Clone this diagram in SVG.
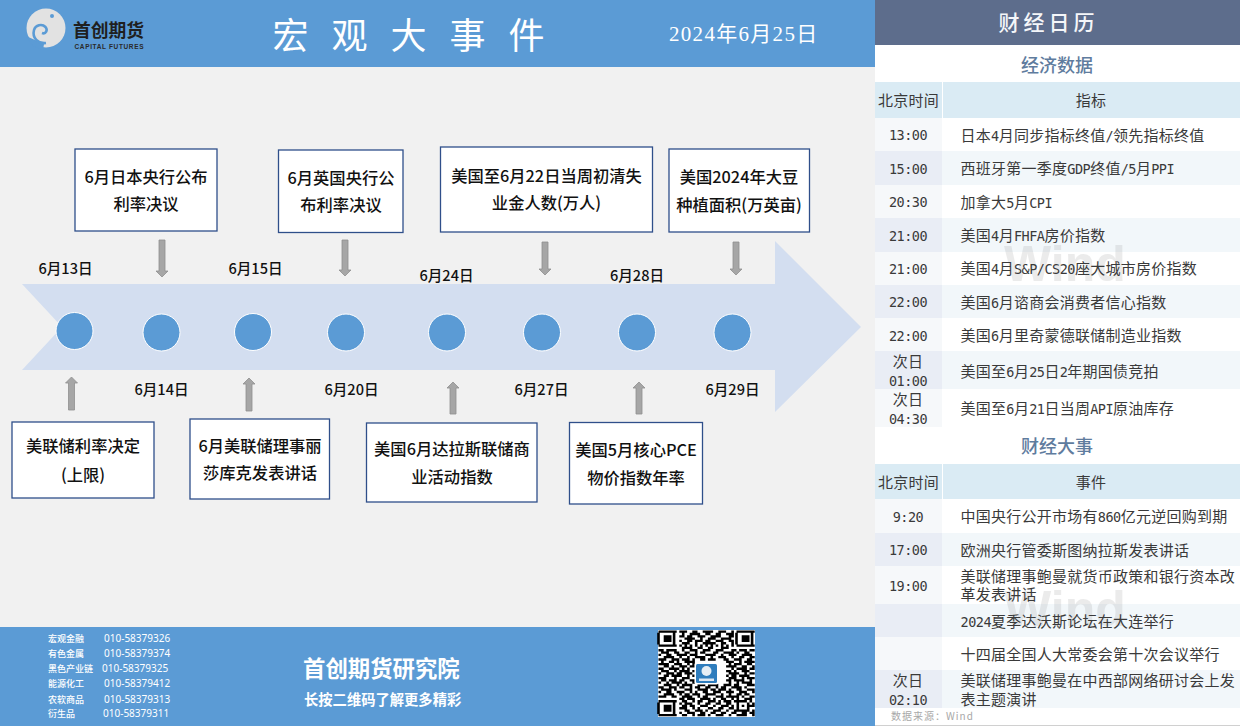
<svg xmlns="http://www.w3.org/2000/svg" width="1240" height="726" viewBox="0 0 1240 726">
<style>
text{font-family:"Noto Sans CJK SC","Noto Sans",sans-serif}
.box{fill:#fff;stroke:#2F4F8A;stroke-width:1.3}
.bt{font-size:16.300px;font-weight:500;fill:#111;text-anchor:middle}
.dt{font-size:14.600px;font-weight:500;fill:#111;text-anchor:middle}
.dot{fill:#5B9BD5;stroke:#fff;stroke-width:1}
.arr{fill:#A6A6A6;stroke:#8F8F8F;stroke-width:.8}
.c{font-size:15px;fill:#3A3A3A;letter-spacing:.25px}
.t{font-size:15px;fill:#3A3A3A;letter-spacing:.25px;text-anchor:middle}
.m{font-family:"DejaVu Sans Mono",monospace;font-size:13.500px;letter-spacing:-.5px}
.h{font-size:15px;fill:#3A3A3A;text-anchor:middle;letter-spacing:.2px}
.sec{font-size:18px;font-weight:500;fill:#5F7C9E;text-anchor:middle}
.dep{font-size:9px;font-weight:500;fill:#fff}
.ph{font-family:"Noto Sans",sans-serif;font-size:10px;fill:#fff}
.wm{font-family:"Liberation Sans",sans-serif;font-weight:700;font-size:50px;fill:#777;opacity:.14}
.hd{fill:#DAEBF4}.ta{fill:#F2F7FA}.tb{fill:#E9EDF5}.tc{fill:#F6F8FA}
</style>
<rect width="1240" height="726" fill="#fff"/>
<rect width="875" height="726" fill="#F1F1F1"/>
<g id="header">
<rect width="875" height="67" fill="#5B9BD5"/>
<g id="logo">
<circle cx="46" cy="28" r="19.500" fill="#E2E2E2"/>
<path d="M26 36L33 46 43 50 44 44Z" fill="#5B9BD5"/>
<path d="M46 43C38 44 32 38 34 30 35.500 25 42 23.500 45.500 27 48 30 46 34.500 42 33" fill="none" stroke="#5B9BD5" stroke-width="2.600"/>
<circle cx="52" cy="16" r="2" fill="#5B9BD5"/>
<text x="73" y="37" font-size="17.800" font-weight="700" fill="#1F1F1F">首创期货</text>
<text x="74.500" y="48.500" font-size="6.500" font-weight="700" fill="#2A2A2A" style="font-family:'Liberation Sans',sans-serif" textLength="69">CAPITAL FUTURES</text>
</g>
<text x="420" y="49" font-size="36" font-weight="400" fill="#fff" text-anchor="middle" letter-spacing="23">宏观大事件</text>
<text x="669" y="41" font-size="21" fill="#fff" letter-spacing="1.300" style="font-family:'Liberation Serif','Noto Sans CJK SC',serif">2024年6月25日</text>
</g>
<path id="timeline-arrow" d="M22 284H775V241L861 327 775 412V370H22L62 327Z" fill="#D3DEF0"/>
<g id="connectors">
<path class="arr" d="M159 240h6v31h3l-6 6-6-6h3z"/>
<path class="arr" d="M342 240h6v30h3l-6 6-6-6h3z"/>
<path class="arr" d="M542 242h6v27h3l-6 6-6-6h3z"/>
<path class="arr" d="M733 242h6v27h3l-6 6-6-6h3z"/>
<path class="arr" d="M68.500 410v-27h-3l6-6 6 6h-3v27z"/>
<path class="arr" d="M246 411v-27h-3l6-6 6 6h-3v27z"/>
<path class="arr" d="M450 414v-26h-3l6-6 6 6h-3v26z"/>
<path class="arr" d="M636 414v-26h-3l6-6 6 6h-3v26z"/>
</g>
<g id="dots">
<circle class="dot" cx="74.500" cy="331" r="18.500"/>
<circle class="dot" cx="161.500" cy="332.500" r="18.500"/>
<circle class="dot" cx="253" cy="332" r="18.500"/>
<circle class="dot" cx="346" cy="332.500" r="18.500"/>
<circle class="dot" cx="447" cy="332.500" r="18.500"/>
<circle class="dot" cx="542" cy="332.500" r="18.500"/>
<circle class="dot" cx="637" cy="332.500" r="18.500"/>
<circle class="dot" cx="732.500" cy="332.500" r="18.500"/>
</g>
<g id="dates">
<text class="dt" x="65.500" y="274">6月13日</text>
<text class="dt" x="255.500" y="274">6月15日</text>
<text class="dt" x="446.500" y="281">6月24日</text>
<text class="dt" x="637" y="281">6月28日</text>
<text class="dt" x="161.500" y="395">6月14日</text>
<text class="dt" x="351.500" y="395">6月20日</text>
<text class="dt" x="541.500" y="395">6月27日</text>
<text class="dt" x="732.500" y="395">6月29日</text>
</g>
<g id="node-boj"><rect class="box" x="75" y="149" width="142" height="82"/><text class="bt" x="146" y="183">6月日本央行公布</text><text class="bt" x="146" y="210">利率决议</text></g>
<g id="node-boe"><rect class="box" x="278.500" y="150" width="124.500" height="82.500"/><text class="bt" x="341" y="184">6月英国央行公</text><text class="bt" x="341" y="211">布利率决议</text></g>
<g id="node-jobless"><rect class="box" x="440.500" y="147" width="212" height="85"/><text class="bt" x="546.500" y="182">美国至6月22日当周初清失</text><text class="bt" x="546.500" y="209">业金人数(万人)</text></g>
<g id="node-soy"><rect class="box" x="669" y="149" width="140.500" height="83"/><text class="bt" x="739" y="183">美国2024年大豆</text><text class="bt" x="739" y="211">种植面积(万英亩)</text></g>
<g id="node-fed"><rect class="box" x="12" y="422" width="142" height="76"/><text class="bt" x="83" y="452">美联储利率决定</text><text class="bt" x="83" y="481">(上限)</text></g>
<g id="node-bowman"><rect class="box" x="190" y="419" width="139.500" height="80"/><text class="bt" x="260" y="452">6月美联储理事丽</text><text class="bt" x="260" y="479">莎库克发表讲话</text></g>
<g id="node-dallas"><rect class="box" x="366.500" y="423" width="170.500" height="79"/><text class="bt" x="452" y="455">美国6月达拉斯联储商</text><text class="bt" x="452" y="483">业活动指数</text></g>
<g id="node-pce"><rect class="box" x="569.500" y="422.500" width="133" height="81.500"/><text class="bt" x="636" y="456">美国5月核心PCE</text><text class="bt" x="636" y="484">物价指数年率</text></g>
<g id="footer">
<rect y="627" width="875" height="99" fill="#5B9BD5"/>
<text class="dep" x="48" y="642">宏观金融</text><text class="ph" x="104" y="642">010-58379326</text>
<text class="dep" x="48" y="657">有色金属</text><text class="ph" x="104" y="657">010-58379374</text>
<text class="dep" x="48" y="672">黑色产业链</text><text class="ph" x="102" y="672">010-58379325</text>
<text class="dep" x="48" y="687">能源化工</text><text class="ph" x="104" y="687">010-58379412</text>
<text class="dep" x="48" y="703">农软商品</text><text class="ph" x="104" y="703">010-58379313</text>
<text class="dep" x="48" y="717">衍生品</text><text class="ph" x="103" y="717">010-58379311</text>
<text x="303" y="677" font-size="22.400" font-weight="700" fill="#fff">首创期货研究院</text>
<text x="304" y="705" font-size="14.300" font-weight="700" fill="#fff">长按二维码了解更多精彩</text>
<g id="qr">
<rect x="658" y="630" width="97" height="87" fill="#fff"/>
<g transform="translate(658.500 630.500) scale(2.6 2.32)">
<path fill="none" stroke="#000" stroke-width="1" d="M0 .5h7M0 6.500h7M0 1v5M6 1v5M30 .5h7M30 6.500h7M30 1v5M36 1v5M0 30.500h7M0 36.500h7M0 31v5M6 31v5M8 .5h3M13 .5h2M17 .5h4M23 .5h3M28 .5h1M9 1.500h1M12 1.500h4M18 1.500h2M22 1.500h2M26 1.500h3M8 2.500h2M11 2.500h2M15 2.500h3M20 2.500h4M27 2.500h2M10 3.500h4M16 3.500h1M19 3.500h3M24 3.500h4M8 4.500h1M11 4.500h2M14 4.500h3M18 4.500h2M22 4.500h3M27 4.500h2M9 5.500h3M14 5.500h1M17 5.500h5M24 5.500h2M28 5.500h1M8 6.500h1M10 6.500h1M12 6.500h1M14 6.500h1M16 6.500h1M18 6.500h1M20 6.500h1M22 6.500h1M24 6.500h1M26 6.500h1M28 6.500h1M9 7.500h4M15 7.500h2M19 7.500h2M24 7.500h3M0 8.500h2M3 8.500h4M9 8.500h1M12 8.500h3M17 8.500h3M22 8.500h3M28 8.500h2M31 8.500h3M35 8.500h2M1 9.500h3M6 9.500h2M10 9.500h2M14 9.500h1M16 9.500h2M21 9.500h2M25 9.500h4M30 9.500h1M33 9.500h2M0 10.500h1M3 10.500h2M7 10.500h4M12 10.500h3M18 10.500h4M24 10.500h1M27 10.500h3M32 10.500h4M2 11.500h4M8 11.500h1M11 11.500h1M14 11.500h4M20 11.500h1M23 11.500h3M28 11.500h1M31 11.500h2M35 11.500h2M0 12.500h3M5 12.500h3M9 12.500h3M13 12.500h1M16 12.500h2M19 12.500h3M25 12.500h2M29 12.500h3M34 12.500h2M1 13.500h1M4 13.500h2M7 13.500h1M10 13.500h4M26 13.500h3M31 13.500h1M33 13.500h4M0 14.500h4M6 14.500h3M11 14.500h1M13 14.500h1M27 14.500h1M29 14.500h3M34 14.500h2M2 15.500h2M5 15.500h1M8 15.500h3M12 15.500h2M26 15.500h4M32 15.500h2M36 15.500h1M0 16.500h2M4 16.500h4M9 16.500h1M11 16.500h1M28 16.500h1M30 16.500h4M35 16.500h2M1 17.500h3M6 17.500h1M8 17.500h4M13 17.500h1M26 17.500h2M29 17.500h1M32 17.500h3M0 18.500h1M3 18.500h3M7 18.500h2M10 18.500h3M27 18.500h4M33 18.500h1M35 18.500h2M2 19.500h2M5 19.500h4M11 19.500h1M13 19.500h1M26 19.500h1M28 19.500h2M31 19.500h4M0 20.500h3M6 20.500h1M9 20.500h3M27 20.500h3M32 20.500h1M34 20.500h3M1 21.500h2M4 21.500h3M8 21.500h2M12 21.500h2M26 21.500h2M29 21.500h4M35 21.500h1M0 22.500h1M3 22.500h1M5 22.500h4M10 22.500h1M13 22.500h1M27 22.500h1M30 22.500h1M32 22.500h4M2 23.500h3M7 23.500h1M9 23.500h4M15 23.500h3M19 23.500h4M25 23.500h3M29 23.500h2M34 23.500h3M0 24.500h2M4 24.500h3M8 24.500h2M12 24.500h1M14 24.500h2M18 24.500h2M22 24.500h1M24 24.500h2M28 24.500h4M33 24.500h1M1 25.500h4M6 25.500h1M10 25.500h3M15 25.500h4M20 25.500h2M23 25.500h3M27 25.500h1M30 25.500h2M34 25.500h3M0 26.500h1M3 26.500h2M7 26.500h3M12 26.500h1M14 26.500h1M17 26.500h2M21 26.500h3M26 26.500h3M31 26.500h3M36 26.500h1M2 27.500h4M8 27.500h1M10 27.500h2M13 27.500h3M18 27.500h4M24 27.500h1M27 27.500h1M30 27.500h2M33 27.500h2M0 28.500h3M5 28.500h2M9 28.500h4M15 28.500h1M17 28.500h2M22 28.500h3M26 28.500h5M32 28.500h1M35 28.500h2M8 29.500h2M11 29.500h3M16 29.500h4M21 29.500h1M24 29.500h2M28 29.500h1M30 29.500h1M33 29.500h3M9 30.500h2M13 30.500h1M15 30.500h2M19 30.500h3M23 30.500h1M25 30.500h3M29 30.500h5M35 30.500h1M8 31.500h1M10 31.500h3M15 31.500h1M18 31.500h2M22 31.500h2M26 31.500h2M30 31.500h1M34 31.500h1M36 31.500h1M9 32.500h2M12 32.500h2M16 32.500h3M21 32.500h1M24 32.500h3M28 32.500h1M30 32.500h1M32 32.500h1M34 32.500h3M8 33.500h3M13 33.500h1M15 33.500h1M19 33.500h2M23 33.500h2M27 33.500h2M30 33.500h1M34 33.500h1M10 34.500h2M14 34.500h3M18 34.500h1M21 34.500h3M26 34.500h1M29 34.500h6M36 34.500h1M8 35.500h1M11 35.500h3M16 35.500h2M20 35.500h2M24 35.500h2M28 35.500h2M32 35.500h2M35 35.500h2M9 36.500h2M13 36.500h1M15 36.500h3M19 36.500h1M22 36.500h3M27 36.500h1M30 36.500h4M36 36.500h1"/>
<path d="M2 2h3v3H2zM32 2h3v3h-3zM2 32h3v3H2z"/>
</g>
<rect x="694.500" y="662.500" width="24" height="22" rx="2" fill="#fff"/>
<rect x="696" y="664" width="21" height="19" rx="1.500" fill="#2F7DBD"/>
<circle cx="706.500" cy="671" r="5" fill="#E6EEF5"/>
<rect x="699" y="678.500" width="15" height="2.500" fill="#DCE8F3"/>
</g>
</g>
<g id="calendar">
<rect x="875" width="365" height="45" fill="#5D6D8C"/>
<text x="1048.500" y="30" font-size="21" font-weight="500" fill="#F4F6F9" text-anchor="middle" letter-spacing="4">财经日历</text>
<text class="sec" x="1057" y="72">经济数据</text>
<g id="rows">
<rect class="hd" x="875" y="82" width="67" height="36"/><rect class="hd" x="943" y="82" width="297" height="36"/>
<rect class="tc" x="875" y="118" width="67" height="33"/>
<rect class="ta" x="875" y="151" width="365" height="34"/><rect class="tb" x="875" y="151" width="67" height="34"/>
<rect class="tc" x="875" y="185" width="67" height="33"/>
<rect class="ta" x="875" y="218" width="365" height="34"/><rect class="tb" x="875" y="218" width="67" height="34"/>
<rect class="tc" x="875" y="252" width="67" height="33"/>
<rect class="ta" x="875" y="285" width="365" height="33"/><rect class="tb" x="875" y="285" width="67" height="33"/>
<rect class="tc" x="875" y="318" width="67" height="33"/>
<rect class="ta" x="875" y="351" width="365" height="38"/><rect class="tb" x="875" y="351" width="67" height="38"/>
<rect class="tc" x="875" y="389" width="67" height="38"/>
<rect class="hd" x="875" y="464" width="67" height="35"/><rect class="hd" x="943" y="464" width="297" height="35"/>
<rect class="tc" x="875" y="499" width="67" height="34"/>
<rect class="ta" x="875" y="533" width="365" height="33"/><rect class="tb" x="875" y="533" width="67" height="33"/>
<rect class="tc" x="875" y="566" width="67" height="38"/>
<rect class="ta" x="875" y="604" width="365" height="33"/><rect class="tb" x="875" y="604" width="67" height="33"/>
<rect class="tc" x="875" y="637" width="67" height="33"/>
<rect class="ta" x="875" y="670" width="365" height="38"/><rect class="tb" x="875" y="670" width="67" height="38"/>
<rect x="875" y="725" width="365" height="1" fill="#D0D0D0"/>
</g>
<text class="wm" x="1004" y="281">Wind</text>
<text class="wm" x="1004" y="626">Wind</text>
<text class="h" x="908.500" y="106">北京时间</text><text class="h" x="1091" y="106">指标</text>
<text class="t" x="908" y="140"><tspan class="m">13:00</tspan></text><text class="c" x="960.500" y="141">日本<tspan class="m">4</tspan>月同步指标终值<tspan class="m">/</tspan>领先指标终值</text>
<text class="t" x="908" y="174"><tspan class="m">15:00</tspan></text><text class="c" x="960.500" y="174">西班牙第一季度<tspan class="m">GDP</tspan>终值<tspan class="m">/5</tspan>月<tspan class="m">PPI</tspan></text>
<text class="t" x="908" y="207"><tspan class="m">20:30</tspan></text><text class="c" x="960.500" y="208">加拿大<tspan class="m">5</tspan>月<tspan class="m">CPI</tspan></text>
<text class="t" x="908" y="241"><tspan class="m">21:00</tspan></text><text class="c" x="960.500" y="241">美国<tspan class="m">4</tspan>月<tspan class="m">FHFA</tspan>房价指数</text>
<text class="t" x="908" y="274"><tspan class="m">21:00</tspan></text><text class="c" x="960.500" y="274">美国<tspan class="m">4</tspan>月<tspan class="m">S&amp;P/CS20</tspan>座大城市房价指数</text>
<text class="t" x="908" y="307"><tspan class="m">22:00</tspan></text><text class="c" x="960.500" y="308">美国<tspan class="m">6</tspan>月谘商会消费者信心指数</text>
<text class="t" x="908" y="341"><tspan class="m">22:00</tspan></text><text class="c" x="960.500" y="341">美国<tspan class="m">6</tspan>月里奇蒙德联储制造业指数</text>
<text class="t" x="908" y="367">次日</text><text class="t" x="908" y="386"><tspan class="m">01:00</tspan></text><text class="c" x="960.500" y="377">美国至<tspan class="m">6</tspan>月<tspan class="m">25</tspan>日<tspan class="m">2</tspan>年期国债竞拍</text>
<text class="t" x="908" y="405">次日</text><text class="t" x="908" y="424"><tspan class="m">04:30</tspan></text><text class="c" x="960.500" y="414">美国至<tspan class="m">6</tspan>月<tspan class="m">21</tspan>日当周<tspan class="m">API</tspan>原油库存</text>
<text class="sec" x="1057" y="453">财经大事</text>
<text class="h" x="908.500" y="488">北京时间</text><text class="h" x="1091" y="488">事件</text>
<text class="t" x="908" y="522"><tspan class="m">9:20</tspan></text><text class="c" x="960.500" y="522">中国央行公开市场有<tspan class="m">860</tspan>亿元逆回购到期</text>
<text class="t" x="908" y="555"><tspan class="m">17:00</tspan></text><text class="c" x="960.500" y="556">欧洲央行管委斯图纳拉斯发表讲话</text>
<text class="t" x="908" y="591"><tspan class="m">19:00</tspan></text><text class="c" x="960.500" y="582">美联储理事鲍曼就货币政策和银行资本改</text><text class="c" x="960.500" y="600">革发表讲话</text>
<text class="c" x="960.500" y="627"><tspan class="m">2024</tspan>夏季达沃斯论坛在大连举行</text>
<text class="c" x="960.500" y="660">十四届全国人大常委会第十次会议举行</text>
<text class="t" x="908" y="686">次日</text><text class="t" x="908" y="705"><tspan class="m">02:10</tspan></text><text class="c" x="960.500" y="686">美联储理事鲍曼在中西部网络研讨会上发</text><text class="c" x="960.500" y="705">表主题演讲</text>
<text x="891" y="720" font-size="10" fill="#A8A8A8" letter-spacing="1">数据来源：Wind</text>
</g>
</svg>
